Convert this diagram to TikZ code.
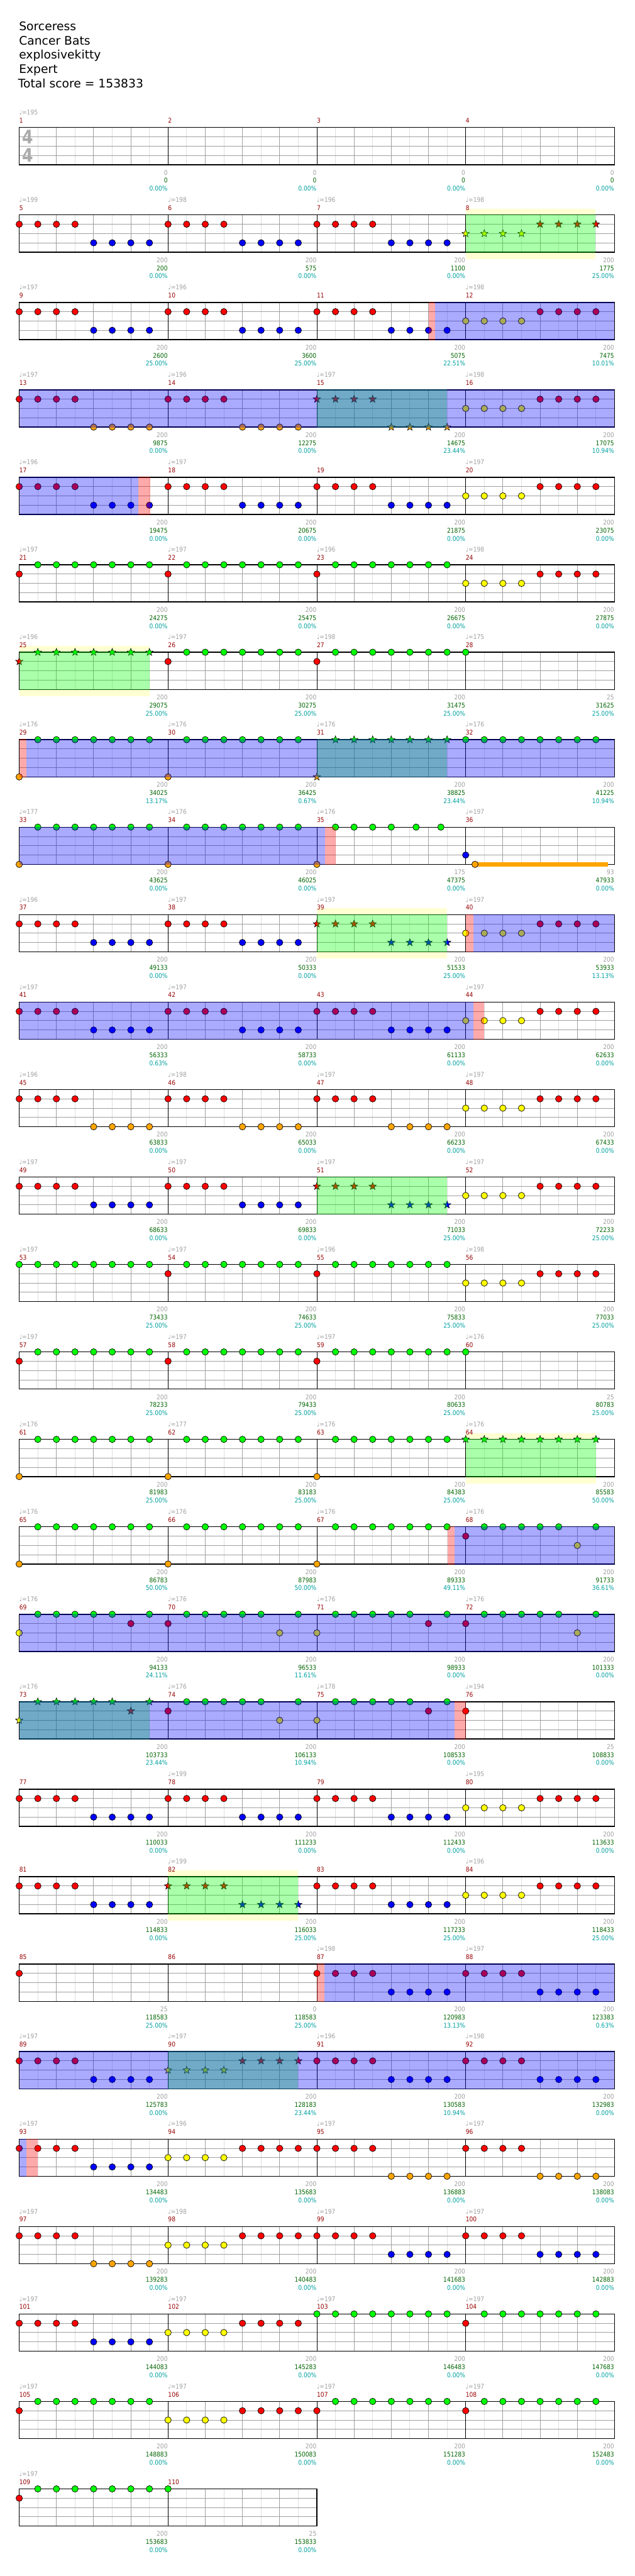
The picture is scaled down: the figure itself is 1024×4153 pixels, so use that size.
\documentclass[tikz,border=0pt]{standalone}
\usepackage{fontspec}
\setmainfont{DejaVu Sans}
\newfontfamily\smallf{DejaVu Sans}[FakeStretch=0.88]
\usetikzlibrary{shapes.geometric}
\definecolor{nR}{RGB}{255,0,0}
\definecolor{nG}{RGB}{0,255,0}
\definecolor{nY}{RGB}{255,255,0}
\definecolor{nB}{RGB}{0,0,255}
\definecolor{nO}{RGB}{255,165,0}
\definecolor{mred}{RGB}{150,0,0}
\definecolor{lgray}{RGB}{160,160,160}
\definecolor{dgreen}{RGB}{0,100,0}
\definecolor{pctc}{RGB}{0,160,160}
\definecolor{ybg}{RGB}{255,255,210}
\definecolor{gridl}{RGB}{222,222,222}
\definecolor{gridm}{RGB}{160,160,160}
\definecolor{tsig}{RGB}{170,170,170}
% note macros: {measure}{eighth}{lane}{colour}
\newcommand\Nt[4]{\pgfmathsetmacro\nX{31+240*mod(#1-1,4)+30*(#2)}\pgfmathsetmacro\nY{205.5+141*floor((#1-1)/4)+15*(#3)}\draw[notec,fill=#4] (\nX,\nY) circle[radius=5.2];}
\newcommand\Sr[4]{\pgfmathsetmacro\nX{31+240*mod(#1-1,4)+30*(#2)}\pgfmathsetmacro\nY{205.5+141*floor((#1-1)/4)+15*(#3)}\node[snote,fill=#4] at (\nX,\nY) {};}
\newcommand\pA[2]{\foreach\k in{0,...,3}{#2{#1}{\k}{1}{nR}}\foreach\k in{4,...,7}{#2{#1}{\k}{3}{nB}}}
\newcommand\pC[2]{\foreach\k in{0,...,3}{#2{#1}{\k}{2}{nY}}\foreach\k in{4,...,7}{#2{#1}{\k}{1}{nR}}}
\newcommand\pO[2]{\foreach\k in{0,...,3}{#2{#1}{\k}{1}{nR}}\foreach\k in{4,...,7}{#2{#1}{\k}{4}{nO}}}
\newcommand\pG[4]{#2{#1}{0}{#3}{#4}\foreach\k in{1,...,7}{#2{#1}{\k}{0}{nG}}}
\newcommand\pGG[2]{\foreach\k in{0,...,7}{#2{#1}{\k}{0}{nG}}}
\newcommand\pX[6]{#2{#1}{0}{#3}{#4}\foreach\k in{1,...,5}{#2{#1}{\k}{0}{nG}}#2{#1}{6}{#5}{#6}#2{#1}{7}{0}{nG}}
% staff of row #1 with #2 measures
\newcommand\Staff[2]{%
 \pgfmathsetmacro\rT{205.5+141*(#1-1)}%
 \pgfmathsetmacro\rXE{31+240*#2}%
 \pgfmathtruncatemacro\rNL{8*#2-1}%
 \fill[white] (31,\rT) rectangle (\rXE,\rT+60);
 \foreach \i in {1,3,...,\rNL} {\draw[lightl] (31+30*\i,\rT) -- (31+30*\i,\rT+60);}
 \foreach \j in {15,30,45} {\draw[grayl] (31,\rT+\j) -- (\rXE,\rT+\j);}
 \foreach \i in {2,4,...,\rNL} {\pgfmathtruncatemacro\md{mod(\i,8)}%
   \ifnum\md=0 \draw[measl] (31+30*\i,\rT) -- (31+30*\i,\rT+60);%
   \else \draw[grayl] (31+30*\i,\rT) -- (31+30*\i,\rT+60);\fi}
 \draw[border] (31,\rT) rectangle (\rXE,\rT+60);
}
\newcommand\Ov[4]{\pgfmathsetmacro\oT{205.5+141*(#1-1)}\fill[#4] (#2,\oT-0.7) rectangle (#3,\oT+60.7);}
\newcommand\YB[3]{\pgfmathsetmacro\oT{205.5+141*(#1-1)}\fill[ybg] (#2,\oT-10) rectangle (#3,\oT+71);}
% measure labels: {m}{tempo}{value}{score}{percent}
\newcommand\M[5]{%
 \pgfmathsetmacro\mX{31+240*mod(#1-1,4)}%
 \pgfmathsetmacro\mT{205.5+141*floor((#1-1)/4)}%
 \pgfmathsetmacro\mE{\mX+239.5}%
 \node[mnum] (n#1) at (\mX,\mT-7.5) {#1};
 \def\tmpT{#2}\ifx\tmpT\empty\else\node[tempo] (t#1) at (\mX,\mT-20.5) {♩=#2};\fi
 \node[gv] (v#1) at (\mE,\mT+76.5) {#3};
 \node[gsc] (s#1) at (\mE,\mT+89.5) {#4};
 \node[gpc] (p#1) at (\mE,\mT+102.5) {#5\%};
}
\begin{document}
\begin{tikzpicture}[x=1pt,y=-1pt,
 notec/.style={draw=black,line width=0.7pt},
 snote/.style={star,star points=5,star point ratio=2.4,minimum size=12.5pt,inner sep=0pt,draw=black,line width=0.6pt},
 lightl/.style={draw=gridl,line width=0.9pt},
 grayl/.style={draw=gridm,line width=0.9pt},
 measl/.style={draw=black,line width=0.9pt},
 border/.style={draw=black,line width=1.4pt},
 gov/.style={fill=nG,fill opacity=0.333},
 bov/.style={fill=nB,fill opacity=0.333},
 pov/.style={fill=nR,fill opacity=0.333},
 lbl/.style={inner sep=0pt,font=\smallf\fontsize{10.5}{12}\selectfont},
 mnum/.style={lbl,anchor=base west,text=mred},
 tempo/.style={lbl,anchor=base west,text=lgray},
 gv/.style={lbl,anchor=base east,text=lgray},
 gsc/.style={lbl,anchor=base east,text=dgreen},
 gpc/.style={lbl,anchor=base east,text=pctc},
 title/.style={inner sep=0pt,anchor=base west,font=\fontsize{19}{23}\selectfont}]
\useasboundingbox (0,0) rectangle (1024,4153);
\fill[white] (0,0) rectangle (1024,4153);
% title block
\node[title] (song) at (30.5,49) {Sorceress};
\node[title] (artist) at (30.5,72) {Cancer Bats};
\node[title] (charter) at (30.5,95) {explosivekitty};
\node[title] (diff) at (30.5,118) {Expert};
\node[title] (total) at (29,141.5) {Total score = 153833};
% row 1
\Staff{1}{4}
\node[inner sep=0pt,text=tsig,font=\fontsize{30}{30}\bfseries,xscale=0.85] (ts1) at (44.5,220.7) {4};
\node[inner sep=0pt,text=tsig,font=\fontsize{30}{30}\bfseries,xscale=0.85] (ts2) at (44.5,250.5) {4};
% row 2
\YB{2}{751}{960}
\Staff{2}{4}
\pA{5}{\Nt}\pA{6}{\Nt}\pA{7}{\Nt}\pC{8}{\Sr}
\Ov{2}{751}{960}{gov}
% row 3
\Staff{3}{4}
\pA{9}{\Nt}\pA{10}{\Nt}\pA{11}{\Nt}\pC{12}{\Nt}
\Ov{3}{702}{991}{bov}\Ov{3}{691}{702}{pov}
% row 4
\Staff{4}{4}
\pO{13}{\Nt}\pO{14}{\Nt}\pO{15}{\Sr}\pC{16}{\Nt}
\Ov{4}{511}{721}{gov}\Ov{4}{31}{991}{bov}
% row 5
\Staff{5}{4}
\pA{17}{\Nt}\pA{18}{\Nt}\pA{19}{\Nt}\pC{20}{\Nt}
\Ov{5}{31}{223}{bov}\Ov{5}{223}{242}{pov}
% row 6
\Staff{6}{4}
\pG{21}{\Nt}{1}{nR}\pG{22}{\Nt}{1}{nR}\pG{23}{\Nt}{1}{nR}\pC{24}{\Nt}
% row 7
\YB{7}{31}{241}
\Staff{7}{4}
\pG{25}{\Sr}{1}{nR}\pG{26}{\Nt}{1}{nR}\pG{27}{\Nt}{1}{nR}\Nt{28}{0}{0}{nG}
\Ov{7}{31}{241}{gov}
% row 8
\Staff{8}{4}
\pG{29}{\Nt}{4}{nO}\pG{30}{\Nt}{4}{nO}\pG{31}{\Sr}{4}{nO}\pGG{32}{\Nt}
\Ov{8}{511}{721}{gov}\Ov{8}{43}{991}{bov}\Ov{8}{31}{43}{pov}
% row 9
\Staff{9}{4}
\pG{33}{\Nt}{4}{nO}\pG{34}{\Nt}{4}{nO}
\Nt{35}{0}{4}{nO}
\foreach\k in {1,2,3,4,5.333,6.667}{\Nt{35}{\k}{0}{nG}}
\Nt{36}{0}{3}{nB}
\fill[nO] (766,1390) rectangle (980,1397);
\Nt{36}{0.5}{4}{nO}
\Ov{9}{31}{524}{bov}\Ov{9}{524}{541}{pov}
% row 10
\YB{10}{511}{721}
\Staff{10}{4}
\pA{37}{\Nt}\pA{38}{\Nt}\pA{39}{\Sr}\pC{40}{\Nt}
\Ov{10}{511}{721}{gov}\Ov{10}{763}{991}{bov}\Ov{10}{751}{763}{pov}
% row 11
\Staff{11}{4}
\pA{41}{\Nt}\pA{42}{\Nt}\pA{43}{\Nt}\pC{44}{\Nt}
\Ov{11}{31}{763}{bov}\Ov{11}{763}{781}{pov}
% row 12
\Staff{12}{4}
\pO{45}{\Nt}\pO{46}{\Nt}\pO{47}{\Nt}\pC{48}{\Nt}
% row 13
\Staff{13}{4}
\pA{49}{\Nt}\pA{50}{\Nt}\pA{51}{\Sr}\pC{52}{\Nt}
\Ov{13}{511}{721}{gov}
% row 14
\Staff{14}{4}
\pGG{53}{\Nt}\pG{54}{\Nt}{1}{nR}\pG{55}{\Nt}{1}{nR}\pC{56}{\Nt}
% row 15
\Staff{15}{4}
\pG{57}{\Nt}{1}{nR}\pG{58}{\Nt}{1}{nR}\pG{59}{\Nt}{1}{nR}\Nt{60}{0}{0}{nG}
% row 16
\YB{16}{751}{961}
\Staff{16}{4}
\pG{61}{\Nt}{4}{nO}\pG{62}{\Nt}{4}{nO}\pG{63}{\Nt}{4}{nO}\pGG{64}{\Sr}
\Ov{16}{751}{961}{gov}
% row 17
\Staff{17}{4}
\pG{65}{\Nt}{4}{nO}\pG{66}{\Nt}{4}{nO}\pG{67}{\Nt}{4}{nO}\pX{68}{\Nt}{1}{nR}{2}{nY}
\Ov{17}{733}{991}{bov}\Ov{17}{721.6}{733}{pov}
% row 18
\Staff{18}{4}
\pX{69}{\Nt}{2}{nY}{1}{nR}\pX{70}{\Nt}{1}{nR}{2}{nY}\pX{71}{\Nt}{2}{nY}{1}{nR}\pX{72}{\Nt}{1}{nR}{2}{nY}
\Ov{18}{31}{991}{bov}
% row 19
\Staff{19}{4}
\pX{73}{\Sr}{2}{nY}{1}{nR}\pX{74}{\Nt}{1}{nR}{2}{nY}\pX{75}{\Nt}{2}{nY}{1}{nR}\Nt{76}{0}{1}{nR}
\Ov{19}{31}{241}{gov}\Ov{19}{31}{733}{bov}\Ov{19}{733}{751}{pov}
% row 20
\Staff{20}{4}
\pA{77}{\Nt}\pA{78}{\Nt}\pA{79}{\Nt}\pC{80}{\Nt}
% row 21
\YB{21}{271}{481}
\Staff{21}{4}
\pA{81}{\Nt}\pA{82}{\Sr}\pA{83}{\Nt}\pC{84}{\Nt}
\Ov{21}{271}{481}{gov}
% row 22
\Staff{22}{4}
\Nt{85}{0}{1}{nR}\pA{87}{\Nt}\pA{88}{\Nt}
\Ov{22}{523}{991}{bov}\Ov{22}{511}{523}{pov}
% row 23
\Staff{23}{4}
\pA{89}{\Nt}\pC{90}{\Sr}\pA{91}{\Nt}\pA{92}{\Nt}
\Ov{23}{271}{481}{gov}\Ov{23}{31}{991}{bov}
% row 24
\Staff{24}{4}
\pA{93}{\Nt}\pC{94}{\Nt}\pO{95}{\Nt}\pO{96}{\Nt}
\Ov{24}{31}{43}{bov}\Ov{24}{43}{61}{pov}
% row 25
\Staff{25}{4}
\pO{97}{\Nt}\pC{98}{\Nt}\pA{99}{\Nt}\pA{100}{\Nt}
% row 26
\Staff{26}{4}
\pA{101}{\Nt}\pC{102}{\Nt}\pGG{103}{\Nt}\pG{104}{\Nt}{1}{nR}
% row 27
\Staff{27}{4}
\pG{105}{\Nt}{1}{nR}\pC{106}{\Nt}\pG{107}{\Nt}{1}{nR}\pG{108}{\Nt}{1}{nR}
% row 28
\Staff{28}{2}
\pG{109}{\Nt}{1}{nR}\Nt{110}{0}{0}{nG}
% labels
\M{1}{195}{0}{0}{0.00}\M{2}{}{0}{0}{0.00}\M{3}{}{0}{0}{0.00}\M{4}{}{0}{0}{0.00}
\M{5}{199}{200}{200}{0.00}\M{6}{198}{200}{575}{0.00}\M{7}{196}{200}{1100}{0.00}\M{8}{198}{200}{1775}{25.00}
\M{9}{197}{200}{2600}{25.00}\M{10}{196}{200}{3600}{25.00}\M{11}{}{200}{5075}{22.51}\M{12}{198}{200}{7475}{10.01}
\M{13}{197}{200}{9875}{0.00}\M{14}{196}{200}{12275}{0.00}\M{15}{197}{200}{14675}{23.44}\M{16}{198}{200}{17075}{10.94}
\M{17}{196}{200}{19475}{0.00}\M{18}{197}{200}{20675}{0.00}\M{19}{}{200}{21875}{0.00}\M{20}{197}{200}{23075}{0.00}
\M{21}{197}{200}{24275}{0.00}\M{22}{197}{200}{25475}{0.00}\M{23}{196}{200}{26675}{0.00}\M{24}{198}{200}{27875}{0.00}
\M{25}{196}{200}{29075}{25.00}\M{26}{197}{200}{30275}{25.00}\M{27}{198}{200}{31475}{25.00}\M{28}{175}{25}{31625}{25.00}
\M{29}{176}{200}{34025}{13.17}\M{30}{176}{200}{36425}{0.67}\M{31}{176}{200}{38825}{23.44}\M{32}{176}{200}{41225}{10.94}
\M{33}{177}{200}{43625}{0.00}\M{34}{176}{200}{46025}{0.00}\M{35}{176}{175}{47375}{0.00}\M{36}{197}{93}{47933}{0.00}
\M{37}{196}{200}{49133}{0.00}\M{38}{197}{200}{50333}{0.00}\M{39}{197}{200}{51533}{25.00}\M{40}{197}{200}{53933}{13.13}
\M{41}{197}{200}{56333}{0.63}\M{42}{197}{200}{58733}{0.00}\M{43}{}{200}{61133}{0.00}\M{44}{197}{200}{62633}{0.00}
\M{45}{196}{200}{63833}{0.00}\M{46}{198}{200}{65033}{0.00}\M{47}{197}{200}{66233}{0.00}\M{48}{197}{200}{67433}{0.00}
\M{49}{197}{200}{68633}{0.00}\M{50}{197}{200}{69833}{0.00}\M{51}{197}{200}{71033}{25.00}\M{52}{197}{200}{72233}{25.00}
\M{53}{197}{200}{73433}{25.00}\M{54}{197}{200}{74633}{25.00}\M{55}{196}{200}{75833}{25.00}\M{56}{198}{200}{77033}{25.00}
\M{57}{197}{200}{78233}{25.00}\M{58}{197}{200}{79433}{25.00}\M{59}{197}{200}{80633}{25.00}\M{60}{176}{25}{80783}{25.00}
\M{61}{176}{200}{81983}{25.00}\M{62}{177}{200}{83183}{25.00}\M{63}{176}{200}{84383}{25.00}\M{64}{176}{200}{85583}{50.00}
\M{65}{176}{200}{86783}{50.00}\M{66}{176}{200}{87983}{50.00}\M{67}{176}{200}{89333}{49.11}\M{68}{176}{200}{91733}{36.61}
\M{69}{176}{200}{94133}{24.11}\M{70}{176}{200}{96533}{11.61}\M{71}{176}{200}{98933}{0.00}\M{72}{176}{200}{101333}{0.00}
\M{73}{176}{200}{103733}{23.44}\M{74}{176}{200}{106133}{10.94}\M{75}{178}{200}{108533}{0.00}\M{76}{194}{25}{108833}{0.00}
\M{77}{}{200}{110033}{0.00}\M{78}{199}{200}{111233}{0.00}\M{79}{}{200}{112433}{0.00}\M{80}{195}{200}{113633}{0.00}
\M{81}{}{200}{114833}{0.00}\M{82}{199}{200}{116033}{25.00}\M{83}{}{200}{117233}{25.00}\M{84}{196}{200}{118433}{25.00}
\M{85}{}{25}{118583}{25.00}\M{86}{}{0}{118583}{25.00}\M{87}{198}{200}{120983}{13.13}\M{88}{197}{200}{123383}{0.63}
\M{89}{197}{200}{125783}{0.00}\M{90}{197}{200}{128183}{23.44}\M{91}{196}{200}{130583}{10.94}\M{92}{198}{200}{132983}{0.00}
\M{93}{197}{200}{134483}{0.00}\M{94}{196}{200}{135683}{0.00}\M{95}{197}{200}{136883}{0.00}\M{96}{197}{200}{138083}{0.00}
\M{97}{197}{200}{139283}{0.00}\M{98}{198}{200}{140483}{0.00}\M{99}{197}{200}{141683}{0.00}\M{100}{197}{200}{142883}{0.00}
\M{101}{197}{200}{144083}{0.00}\M{102}{197}{200}{145283}{0.00}\M{103}{197}{200}{146483}{0.00}\M{104}{197}{200}{147683}{0.00}
\M{105}{197}{200}{148883}{0.00}\M{106}{197}{200}{150083}{0.00}\M{107}{197}{200}{151283}{0.00}\M{108}{197}{200}{152483}{0.00}
\M{109}{197}{200}{153683}{0.00}\M{110}{}{25}{153833}{0.00}
\end{tikzpicture}
\end{document}
